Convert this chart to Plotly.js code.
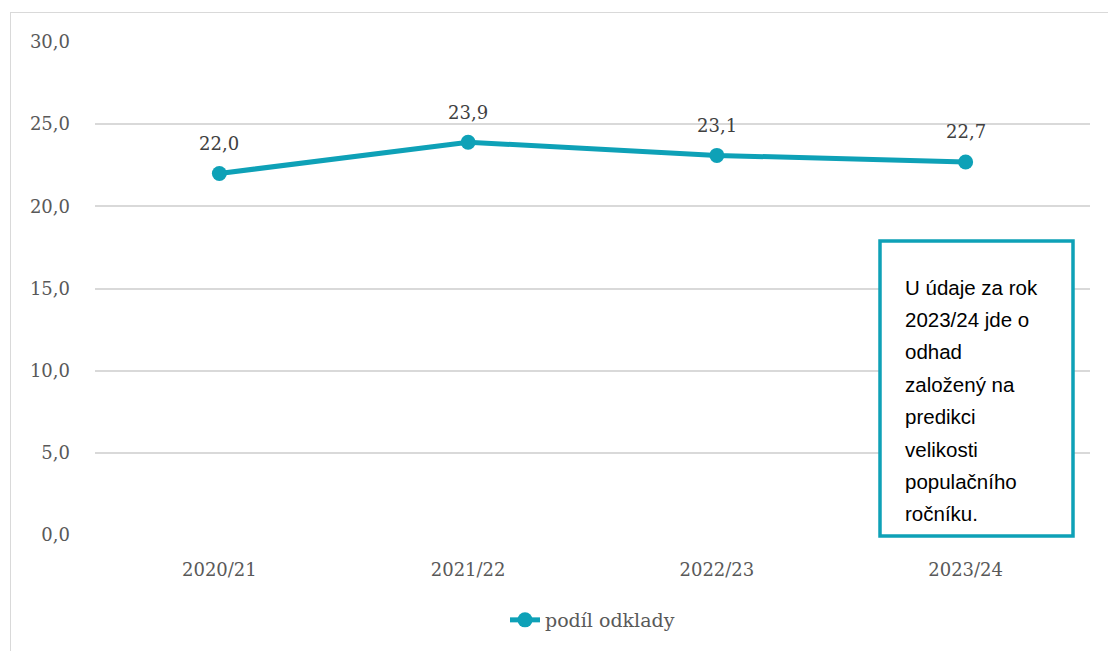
<!DOCTYPE html>
<html>
<head>
<meta charset="utf-8">
<script src="https://cdn.plot.ly/plotly-3.0.1.min.js"></script>
<style>
  html, body { margin: 0; padding: 0; background: #fff; overflow: hidden; }
  #frame { position: absolute; left: 10px; top: 12px; width: 1200px; height: 700px;
           border: 1px solid #d9d9d9; pointer-events: none; z-index: 0; }
  #chart { position: absolute; left: 0; top: 0; width: 1108px; height: 651px; z-index: 1; }
</style>
</head>
<body>
<div id="frame"></div>
<div id="chart"></div>
<script>
const categories = ["2020/21", "2021/22", "2022/23", "2023/24"];
const podilOdklady = [22.0, 23.9, 23.1, 22.7];
const seriesName = "podíl odklady";
const yTicks = [0, 5, 10, 15, 20, 25, 30];
const noteLines = ["U údaje za rok", "2023/24 jde o", "odhad", "založený na", "predikci", "velikosti", "populačního", "ročníku."];

const W = 1108, H = 651;
const M = { l: 95, r: 18, t: 42, b: 116 };
const pw = W - M.l - M.r, ph = H - M.t - M.b;
const px = x => (x - M.l) / pw;
const py = y => (H - M.b - y) / ph;

const teal = "#0ea1b7";
const serif = "DejaVu Serif, serif";
const sans = "Liberation Sans, Arial, sans-serif";

const trace = {
  x: categories,
  y: podilOdklady,
  name: seriesName,
  type: "scatter",
  mode: "lines+markers",
  line: { color: teal, width: 5 },
  marker: { color: teal, size: 15 },
  cliponaxis: false,
  hoverinfo: "skip"
};

const labelAnnotations = categories.map((c, i) => ({
  xref: "x", yref: "y", x: c, y: podilOdklady[i],
  yshift: 30, showarrow: false,
  text: podilOdklady[i].toFixed(1).replace(".", ","),
  font: { family: serif, size: 18, color: "#404040" }
}));

const noteAnnotations = noteLines.map((t, i) => ({
  xref: "paper", yref: "paper",
  x: px(903), y: py(287 + i * 32.4),
  xanchor: "left", yanchor: "middle",
  text: t, showarrow: false, align: "left",
  font: { family: sans, size: 20.5, color: "#000" }
}));

const layout = {
  width: W, height: H,
  margin: M,
  paper_bgcolor: "rgba(0,0,0,0)",
  plot_bgcolor: "rgba(0,0,0,0)",
  separators: ", ",
  showlegend: true,
  legend: {
    orientation: "h", x: 0.5, xanchor: "center", y: py(620), yanchor: "middle",
    font: { family: serif, size: 19, color: "#595959" }
  },
  xaxis: {
    type: "category",
    range: [-0.5, categories.length - 0.5],
    showgrid: false, zeroline: false, showline: false,
    ticks: "", ticklabelstandoff: 22,
    tickfont: { family: serif, size: 18, color: "#595959" }
  },
  yaxis: {
    range: [0, 30],
    tickvals: yTicks,
    tickformat: ".1f",
    showgrid: true, gridcolor: "#d9d9d9", gridwidth: 2,
    zeroline: false, showline: false,
    ticks: "", ticklabelstandoff: 24,
    tickfont: { family: serif, size: 18, color: "#595959" }
  },
  shapes: [{
    type: "rect", xref: "paper", yref: "paper",
    x0: px(880), x1: px(1073), y0: py(536), y1: py(241),
    line: { color: teal, width: 3.5 }, fillcolor: "#fff", layer: "above"
  }],
  annotations: labelAnnotations.concat(noteAnnotations)
};

Plotly.newPlot("chart", [trace], layout, { staticPlot: true, displayModeBar: false });
</script>
</body>
</html>
